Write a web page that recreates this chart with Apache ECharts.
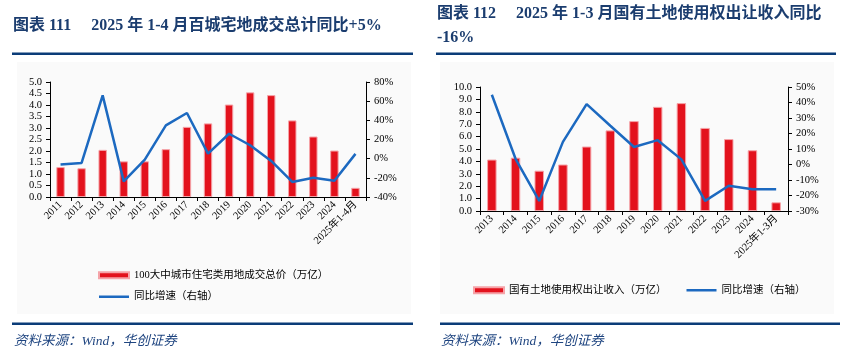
<!DOCTYPE html>
<html>
<head>
<meta charset="utf-8">
<script src="https://cdn.jsdelivr.net/npm/echarts@6/dist/echarts.min.js"></script>
<style>
html,body{margin:0;padding:0;background:#fff;}
#c{width:845px;height:359px;}
</style>
</head>
<body>
<div id="c"></div>
<script>
// Left chart data
const catsA = ['2011','2012','2013','2014','2015','2016','2017','2018','2019','2020','2021','2022','2023','2024','2025年1-4月'];
const barsA = [1.3,1.25,2.05,1.55,1.55,2.08,3.05,3.2,4.02,4.55,4.43,3.33,2.63,2.02,0.4];
const yoyA  = [-6,-4.5,66,-23.7,-1,34.8,47.7,5.2,26,14,-2.4,-24.3,-20,-23,5];
const nameBarA = '100大中城市住宅类用地成交总价（万亿）';
// Right chart data
const catsB = ['2013','2014','2015','2016','2017','2018','2019','2020','2021','2022','2023','2024','2025年1-3月'];
const barsB = [4.15,4.3,3.25,3.75,5.2,6.5,7.25,8.4,8.7,6.7,5.8,4.9,0.7];
const yoyB  = [45,3.7,-23.5,14.6,39,25,11.3,15.7,3.3,-23.5,-13.7,-16,-16];
const nameBarB = '国有土地使用权出让收入（万亿）';
const nameLine = '同比增速（右轴）';

const SERIF = '"Liberation Serif","DejaVu Serif","Noto Sans CJK SC",serif';
const RED = '#e3121d';
const BLUE = '#1c69c0';
const NAVY = '#0b3c78';
const LINE_ICON = 'path://M0,0L0.01,0M0,1.75L30,1.75L30,4.25L0,4.25ZM0,6L0.01,6';
const lab = {color:'#000', fontSize:10.5, fontFamily:SERIF};
const axLine = {show:true, lineStyle:{color:'#000', width:1}};
const tick = {show:true, length:4, lineStyle:{color:'#000'}};

function xAx(gi, cats){
  return {type:'category', gridIndex:gi, data:cats, boundaryGap:true,
    axisLine:axLine, axisTick:{show:true,length:4,alignWithLabel:false,lineStyle:{color:'#000'}},
    axisLabel:Object.assign({rotate:45, margin:6, interval:0}, lab), splitLine:{show:false}};
}

const chart = echarts.init(document.getElementById('c'));
chart.setOption({
  animation:false,
  backgroundColor:'#fff',
  title:[
    {text:'图表 111\u3000 2025 年 1-4 月百城宅地成交总计同比+5%', left:13, top:18, padding:0,
     textStyle:{fontSize:16, fontWeight:'bold', color:'#1b3d6f', fontFamily:SERIF}},
    {text:'图表 112\u3000 2025 年 1-3 月国有土地使用权出让收入同比\n-16%', left:437, top:2, padding:0,
     textStyle:{fontSize:16, fontWeight:'bold', color:'#1b3d6f', fontFamily:SERIF, lineHeight:24}},
    {text:'资料来源：Wind，华创证券', left:14, top:335, padding:0,
     textStyle:{fontSize:13.5, fontWeight:'normal', fontStyle:'italic', color:'#1f4580', fontFamily:SERIF}},
    {text:'资料来源：Wind，华创证券', left:441, top:335, padding:0,
     textStyle:{fontSize:13.5, fontWeight:'normal', fontStyle:'italic', color:'#1f4580', fontFamily:SERIF}}
  ],
  graphic:[
    {type:'rect', shape:{x:17,y:62,width:394,height:252}, style:{fill:'#fafafa'}, z:-10},
    {type:'rect', shape:{x:440,y:62,width:394,height:252}, style:{fill:'#fafafa'}, z:-10},
    {type:'rect', shape:{x:12,y:52.5,width:401,height:2.5}, style:{fill:NAVY}},
    {type:'rect', shape:{x:436,y:52.5,width:400,height:2.5}, style:{fill:NAVY}},
    {type:'rect', shape:{x:12,y:322.5,width:401,height:2.5}, style:{fill:NAVY}},
    {type:'rect', shape:{x:440,y:322.5,width:400,height:2.5}, style:{fill:NAVY}}
  ],
  legend:[
    {orient:'vertical', left:98, top:270, padding:0, itemWidth:30, itemHeight:6, itemGap:11,
     data:[{name:nameBarA, icon:'rect'}, {name:nameLine, icon:LINE_ICON}],
     textStyle:{fontSize:10.5, color:'#000', fontFamily:SERIF}, selectedMode:false},
    {orient:'horizontal', left:473, top:285, padding:0, itemWidth:30, itemHeight:6, itemGap:20,
     data:[{name:nameBarB, icon:'rect'}, {name:nameLine, icon:LINE_ICON}],
     textStyle:{fontSize:10.5, color:'#000', fontFamily:SERIF}, selectedMode:false}
  ],
  grid:[
    {left:50, top:82, width:316, height:115},
    {left:480, top:87, width:308, height:124}
  ],
  xAxis:[xAx(0,catsA), xAx(1,catsB)],
  yAxis:[
    {type:'value', gridIndex:0, min:0, max:5, interval:0.5, axisLine:axLine, axisTick:tick,
     axisLabel:Object.assign({formatter:v=>v.toFixed(1)}, lab), splitLine:{show:false}},
    {type:'value', gridIndex:0, position:'right', min:-40, max:80, interval:20, axisLine:axLine, axisTick:tick,
     axisLabel:Object.assign({formatter:'{value}%'}, lab), splitLine:{show:false}},
    {type:'value', gridIndex:1, min:0, max:10, interval:1, axisLine:axLine, axisTick:tick,
     axisLabel:Object.assign({formatter:v=>v.toFixed(1)}, lab), splitLine:{show:false}},
    {type:'value', gridIndex:1, position:'right', min:-30, max:50, interval:10, axisLine:axLine, axisTick:tick,
     axisLabel:Object.assign({formatter:'{value}%'}, lab), splitLine:{show:false}}
  ],
  series:[
    {name:nameBarA, type:'bar', xAxisIndex:0, yAxisIndex:0, data:barsA, barWidth:'40%',
     itemStyle:{color:RED, borderColor:'#f5a3a8', borderWidth:1}},
    {name:nameLine, type:'line', xAxisIndex:0, yAxisIndex:1, data:yoyA, symbol:'none',
     lineStyle:{color:BLUE, width:2.5}, itemStyle:{color:BLUE}},
    {name:nameBarB, type:'bar', xAxisIndex:1, yAxisIndex:2, data:barsB, barWidth:'40%',
     itemStyle:{color:RED, borderColor:'#f5a3a8', borderWidth:1}},
    {name:nameLine, type:'line', xAxisIndex:1, yAxisIndex:3, data:yoyB, symbol:'none',
     lineStyle:{color:BLUE, width:2.5}, itemStyle:{color:BLUE}}
  ]
});
</script>
</body>
</html>
